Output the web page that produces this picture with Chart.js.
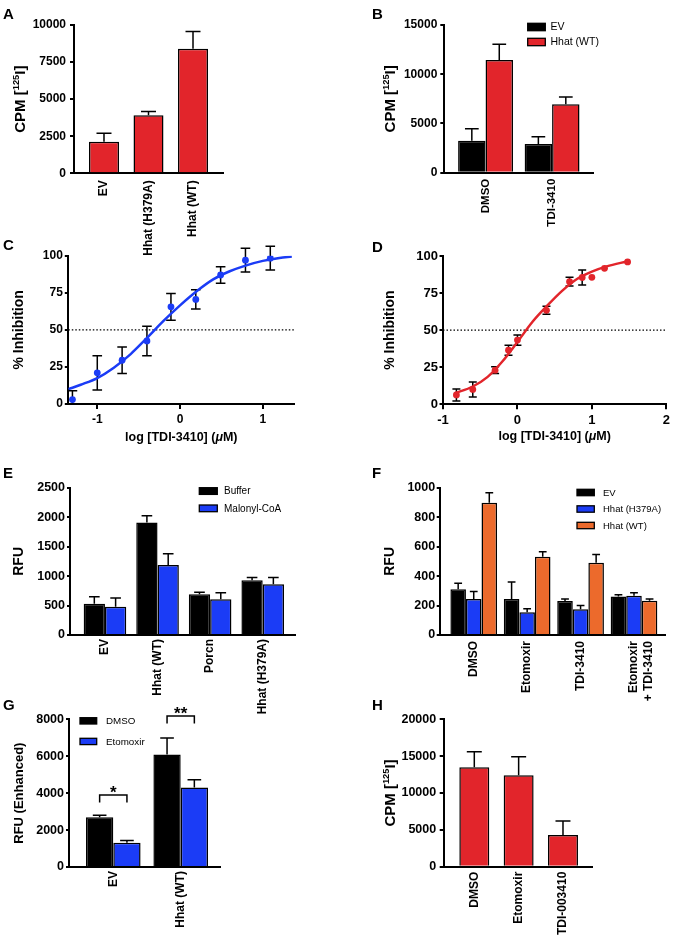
<!DOCTYPE html>
<html>
<head>
<meta charset="utf-8">
<script src="https://cdn.jsdelivr.net/npm/chart.js@4.4.1/dist/chart.umd.min.js"></script>
<style>
  body { margin: 0; background: #fff; }
  #wrap { position: relative; width: 674px; height: 940px; }
  #wrap canvas { position: absolute; left: 0; top: 0; }
</style>
</head>
<body>
<div id="wrap">
  <canvas id="chartA" width="674" height="940"></canvas>
  <canvas id="chartB" width="674" height="940"></canvas>
  <canvas id="chartC" width="674" height="940"></canvas>
  <canvas id="chartD" width="674" height="940"></canvas>
  <canvas id="chartE" width="674" height="940"></canvas>
  <canvas id="chartF" width="674" height="940"></canvas>
  <canvas id="chartG" width="674" height="940"></canvas>
  <canvas id="chartH" width="674" height="940"></canvas>
</div>
<script>
// ---- Data ----

// A: Hhat activity
const aLabels = ['EV', 'Hhat (H379A)', 'Hhat (WT)'];
const aCpm = [2130, 3910, 8400];
const aCpmErr = [570, 250, 1170];

// B: DMSO vs TDI-3410
const bLabels = ['DMSO', 'TDI-3410'];
const bEv = [3250, 2910];
const bEvErr = [1220, 750];
const bWt = [11450, 6940];
const bWtErr = [1590, 750];

// C: dose response (blue)
const cTicks = [-1, 0, 1];
const cLogDose = [-1.3, -1.0, -0.7, -0.4, -0.11, 0.19, 0.49, 0.79, 1.09];
const cInhibition = [3, 21, 29.5, 42.5, 65.5, 70.5, 87, 97, 98.3];
const cInhibitionErr = [6, 11.5, 9, 10, 9, 6.5, 5.6, 8, 8];
const cFitX = [-1.35, -1.2, -1.0, -0.8, -0.6, -0.4, -0.2, 0, 0.2, 0.4, 0.6, 0.8, 1.0, 1.2, 1.35];
const cFitY = [10, 13, 17.5, 24.5, 33.5, 44.5, 56, 66.5, 76, 84, 89.5, 93.5, 96.5, 98.5, 99.5];

// D: dose response (red)
const dTicks = [-1, 0, 1, 2];
const dLogDose = [-0.82, -0.6, -0.3, -0.12, 0, 0.39, 0.7, 0.87, 1.0, 1.17, 1.48];
const dInhibition = [6.3, 10, 23, 36.5, 43.3, 63.4, 82.7, 85.5, 85.6, 91.7, 96];
const dInhibitionErr = [4, 5, 2.3, 3.4, 3.5, 2.7, 3, 5, 0, 0, 0];
const dFitX = [-0.84, -0.6, -0.4, -0.2, 0, 0.2, 0.4, 0.6, 0.8, 1.0, 1.2, 1.48];
const dFitY = [7.5, 12, 18.5, 29, 42, 55.5, 66.5, 76.5, 84.5, 89.5, 93, 96.5];
const halfInhibition = 50;

// E: malonyl-CoA
const eLabels = ['EV', 'Hhat (WT)', 'Porcn', 'Hhat (H379A)'];
const eBuffer = [530, 1910, 690, 930];
const eBufferErr = [120, 115, 35, 45];
const eMalonyl = [480, 1190, 605, 860];
const eMalonylErr = [150, 190, 110, 115];

// F: RFU by treatment
const fLabels = ['DMSO', 'Etomoxir', 'TDI-3410', ['Etomoxir', '+ TDI-3410']];
const fEv = [310, 244, 231, 262];
const fEvErr = [41, 116, 13, 12];
const fH379A = [244, 154, 174, 267];
const fH379AErr = [52, 25, 27, 20];
const fWt = [898, 532, 491, 233];
const fWtErr = [68, 34, 56, 11];

// G: enhanced RFU
const gLabels = ['EV', 'Hhat (WT)'];
const gDmso = [2690, 6100];
const gDmsoErr = [110, 890];
const gEto = [1320, 4300];
const gEtoErr = [110, 430];
const gSigY = [3900, 8180];
const gSigText = ['*', '**'];

// H: CPM by treatment
const hLabels = ['DMSO', 'Etomoxir', 'TDI-003410'];
const hCpm = [13480, 12400, 4300];
const hCpmErr = [2130, 2530, 1900];

// ---- Styling ----
const FONT = "'Liberation Sans', Arial, Helvetica, sans-serif";
const RED = '#e2252b';
const BLUE = '#1b3cf6';
const ORANGE = '#ec6a2c';
const AXIS_W = 60;

Chart.defaults.font.family = FONT;
Chart.defaults.color = '#000';

const xy = (xs, ys) => xs.map((x, i) => ({ x, y: ys[i] }));
const idx = ys => ys.map((y, x) => ({ x, y }));

// draws a line of text with optional superscript / italic pieces, centred on cx
function drawRich(ctx, parts, size, cx, cy) {
  const fonts = parts.map(p => (p.italic ? 'italic ' : '') + 'bold ' + (p.sup ? size * 0.62 : size) + 'px ' + FONT);
  const widths = parts.map((p, k) => { ctx.font = fonts[k]; return ctx.measureText(p.text).width; });
  let x = cx - widths.reduce((a, b) => a + b, 0) / 2;
  ctx.textAlign = 'left';
  ctx.textBaseline = 'alphabetic';
  parts.forEach((p, k) => {
    ctx.font = fonts[k];
    ctx.fillText(p.text, x, cy + size * 0.36 - (p.sup ? size * 0.42 : 0));
    x += widths[k];
  });
}

// error bars, titles, legend, letters, significance brackets
const decor = {
  id: 'decor',
  beforeDatasetsDraw(chart, args, opts) {
    const ctx = chart.ctx;
    const yScale = chart.scales.y;
    ctx.save();
    ctx.strokeStyle = '#000';
    ctx.lineWidth = 1.5;
    chart.data.datasets.forEach((ds, i) => {
      if (!ds.errors) return;
      chart.getDatasetMeta(i).data.forEach((el, j) => {
        const err = ds.errors[j];
        if (!err) return;
        const v = ds.data[j].y;
        const isBar = el.width !== undefined;
        const top = yScale.getPixelForValue(v + err);
        const bottom = isBar ? el.y : yScale.getPixelForValue(Math.max(v - err, yScale.min));
        const half = isBar ? el.width / 4 : opts.cap;
        ctx.beginPath();
        ctx.moveTo(el.x, bottom);
        ctx.lineTo(el.x, top);
        ctx.moveTo(el.x - half, top);
        ctx.lineTo(el.x + half, top);
        if (!isBar && v - err > yScale.min) {
          ctx.moveTo(el.x - half, bottom);
          ctx.lineTo(el.x + half, bottom);
        }
        ctx.stroke();
      });
    });
    ctx.restore();
  },
  afterDraw(chart, args, opts) {
    const ctx = chart.ctx;
    const area = chart.chartArea;
    ctx.save();
    ctx.fillStyle = '#000';

    // panel letter
    ctx.font = 'bold 15px ' + FONT;
    ctx.textAlign = 'left';
    ctx.textBaseline = 'alphabetic';
    ctx.fillText(opts.letter.text, opts.letter.x, opts.letter.y);

    // y title (rotated)
    ctx.save();
    ctx.translate(opts.yTitle.x, (area.top + area.bottom) / 2);
    ctx.rotate(-Math.PI / 2);
    drawRich(ctx, opts.yTitle.parts, opts.yTitle.size, 0, 0);
    ctx.restore();

    // x title
    if (opts.xTitle) {
      drawRich(ctx, opts.xTitle.parts, opts.xTitle.size, (area.left + area.right) / 2, opts.xTitle.y);
    }

    // legend
    if (opts.legend) {
      const lg = opts.legend;
      chart.data.datasets.forEach((ds, i) => {
        const y = lg.y + i * lg.dy;
        ctx.fillStyle = ds.backgroundColor;
        ctx.fillRect(lg.x, y, lg.w, lg.h);
        ctx.strokeStyle = '#000';
        ctx.lineWidth = 1.3;
        ctx.strokeRect(lg.x, y, lg.w, lg.h);
        ctx.fillStyle = '#000';
        ctx.font = lg.size + 'px ' + FONT;
        ctx.textBaseline = 'middle';
        ctx.fillText(ds.label, lg.tx, y + lg.h / 2 + 0.5);
      });
    }

    // significance brackets between the two bars of a group
    if (opts.brackets) {
      const yScale = chart.scales.y;
      const m0 = chart.getDatasetMeta(0).data;
      const m1 = chart.getDatasetMeta(1).data;
      opts.brackets.values.forEach((val, g) => {
        const y = yScale.getPixelForValue(val);
        const x0 = m0[g].x, x1 = m1[g].x;
        ctx.strokeStyle = '#000';
        ctx.lineWidth = 1.5;
        ctx.beginPath();
        ctx.moveTo(x0, y + opts.brackets.leg);
        ctx.lineTo(x0, y);
        ctx.lineTo(x1, y);
        ctx.lineTo(x1, y + opts.brackets.leg);
        ctx.stroke();
        ctx.font = 'bold 17px ' + FONT;
        ctx.textAlign = 'center';
        ctx.textBaseline = 'alphabetic';
        ctx.fillText(opts.brackets.text[g], (x0 + x1) / 2, y + 3);
      });
    }
    ctx.restore();
  }
};

// category axis drawn on a linear scale so the bar spacing can be set
function categoryAxis(labels, min, max, pad, size, h) {
  return {
    type: 'linear',
    min: min,
    max: max,
    offset: false,
    afterBuildTicks: s => { s.ticks = labels.map((_, i) => ({ value: i })); },
    afterFit: s => { s.height = h; },
    ticks: {
      callback: v => labels[v],
      minRotation: 90,
      maxRotation: 90,
      autoSkip: false,
      padding: pad,
      color: '#000',
      font: { family: FONT, size: size, weight: 'bold' }
    },
    grid: { drawOnChartArea: false, drawTicks: false, offset: false },
    border: { color: '#000', width: 2 }
  };
}

function doseAxis(ticks, min, max, size, h) {
  return {
    type: 'linear',
    min: min,
    max: max,
    afterBuildTicks: s => { s.ticks = ticks.map(v => ({ value: v })); },
    afterFit: s => { s.height = h; },
    ticks: { callback: v => String(v), padding: 3, color: '#000', font: { family: FONT, size: size, weight: 'bold' } },
    grid: { drawOnChartArea: false, tickLength: 5, lineWidth: 2, color: '#000' },
    border: { color: '#000', width: 2 }
  };
}

function valueAxis(max, step, tick, pad, size) {
  return {
    min: 0,
    max: max,
    afterFit: s => { s.width = AXIS_W; },
    ticks: { stepSize: step, callback: v => String(v), padding: pad, color: '#000', font: { family: FONT, size: size, weight: 'bold' } },
    grid: { drawOnChartArea: false, tickLength: tick, lineWidth: 2, color: '#000' },
    border: { color: '#000', width: 2 }
  };
}

function barSet(label, color, values, errors, pct) {
  return {
    label: label,
    data: idx(values),
    errors: errors,
    backgroundColor: color,
    borderColor: '#000',
    borderWidth: 1.5,
    categoryPercentage: pct,
    barPercentage: 1
  };
}

// area = chart area in page pixels, xh = height reserved for the x axis labels
function panel(id, area, type, datasets, xAxis, yAxis, decorOpts) {
  return new Chart(document.getElementById(id), {
    type: type,
    data: { datasets: datasets },
    options: {
      responsive: false,
      animation: false,
      events: [],
      layout: {
        padding: {
          left: area.l - AXIS_W,
          top: area.t,
          right: 674 - area.r,
          bottom: 940 - area.b - area.xh
        }
      },
      scales: { x: xAxis, y: yAxis },
      plugins: { legend: { display: false }, tooltip: { enabled: false }, decor: decorOpts }
    },
    plugins: [decor]
  });
}

const cpmTitle = [{ text: 'CPM [' }, { text: '125', sup: true }, { text: 'I]' }];
const inhTitle = [{ text: '% Inhibition' }];
const doseTitle = [{ text: 'log [TDI-3410] (' }, { text: 'μ', italic: true }, { text: 'M)' }];

// A
panel('chartA', { l: 74, t: 25, r: 223, b: 173.3, xh: 95 }, 'bar',
  [barSet('CPM', RED, aCpm, aCpmErr, 0.674)],
  categoryAxis(aLabels, -0.674, 2.674, 7, 12, 95),
  valueAxis(10000, 2500, 4, 4, 12),
  { letter: { text: 'A', x: 3, y: 18.5 }, yTitle: { x: 19.5, size: 15, parts: cpmTitle } });

// B
panel('chartB', { l: 444.3, t: 25, r: 593, b: 172.7, xh: 95 }, 'bar',
  [barSet('EV', '#000', bEv, bEvErr, 0.825), barSet('Hhat (WT)', RED, bWt, bWtErr, 0.825)],
  categoryAxis(bLabels, -0.62, 1.615, 6, 11.5, 95),
  valueAxis(15000, 5000, 4, 3, 12),
  { letter: { text: 'B', x: 372, y: 18.5 }, yTitle: { x: 389.5, size: 15, parts: cpmTitle },
    legend: { x: 527.7, y: 23.3, dy: 15, w: 17.6, h: 7.4, tx: 550.5, size: 10.5 } });

// C
panel('chartC', { l: 68.3, t: 255.7, r: 294.3, b: 404, xh: 40 }, 'scatter',
  [
    { type: 'scatter', data: xy(cLogDose, cInhibition), errors: cInhibitionErr, backgroundColor: BLUE, borderWidth: 0, pointRadius: 3.4 },
    { type: 'line', data: xy(cFitX, cFitY), borderColor: BLUE, borderWidth: 2.5, pointRadius: 0, cubicInterpolationMode: 'monotone' },
    { type: 'line', data: [{ x: -1.35, y: halfInhibition }, { x: 1.38, y: halfInhibition }], borderColor: '#000', borderWidth: 1.2, borderDash: [1.5, 2], pointRadius: 0 }
  ],
  doseAxis(cTicks, -1.35, 1.38, 12, 40),
  valueAxis(100, 25, 3.5, 2, 12),
  { cap: 4.8, letter: { text: 'C', x: 3, y: 250 }, yTitle: { x: 18.3, size: 14, parts: inhTitle },
    xTitle: { y: 436.7, size: 12.5, parts: doseTitle } });

// D
panel('chartD', { l: 443, t: 256, r: 666.3, b: 404.3, xh: 40 }, 'scatter',
  [
    { type: 'scatter', data: xy(dLogDose, dInhibition), errors: dInhibitionErr, backgroundColor: RED, borderWidth: 0, pointRadius: 3.4 },
    { type: 'line', data: xy(dFitX, dFitY), borderColor: RED, borderWidth: 2.5, pointRadius: 0, cubicInterpolationMode: 'monotone' },
    { type: 'line', data: [{ x: -1, y: halfInhibition }, { x: 2, y: halfInhibition }], borderColor: '#000', borderWidth: 1.2, borderDash: [1.5, 2], pointRadius: 0 }
  ],
  doseAxis(dTicks, -1, 2, 13, 40),
  valueAxis(100, 25, 3.5, 1.5, 13),
  { cap: 4, letter: { text: 'D', x: 372, y: 251.5 }, yTitle: { x: 388.7, size: 14, parts: inhTitle },
    xTitle: { y: 435.7, size: 12.5, parts: doseTitle } });

// E
panel('chartE', { l: 70, t: 487.7, r: 295, b: 635, xh: 95 }, 'bar',
  [barSet('Buffer', '#000', eBuffer, eBufferErr, 0.81), barSet('Malonyl-CoA', BLUE, eMalonyl, eMalonylErr, 0.81)],
  categoryAxis(eLabels, -0.665, 3.614, 4, 12, 95),
  valueAxis(2500, 500, 3, 2, 12.5),
  { letter: { text: 'E', x: 3, y: 478.3 }, yTitle: { x: 18.3, size: 14, parts: [{ text: 'RFU' }] },
    legend: { x: 199.3, y: 487.7, dy: 17.3, w: 18, h: 6.7, tx: 224, size: 10 } });

// F
panel('chartF', { l: 439.7, t: 487.7, r: 665.3, b: 635, xh: 95 }, 'bar',
  [barSet('EV', '#000', fEv, fEvErr, 0.874), barSet('Hhat (H379A)', BLUE, fH379A, fH379AErr, 0.874), barSet('Hhat (WT)', ORANGE, fWt, fWtErr, 0.874)],
  categoryAxis(fLabels, -0.637, 3.586, 6, 12, 95),
  valueAxis(1000, 200, 3, 1.5, 12.5),
  { letter: { text: 'F', x: 372, y: 478.3 }, yTitle: { x: 388.6, size: 14, parts: [{ text: 'RFU' }] },
    legend: { x: 577, y: 489.3, dy: 16.5, w: 17.3, h: 6.4, tx: 603, size: 9.5 } });

// G
panel('chartG', { l: 69, t: 719.3, r: 220, b: 867, xh: 72 }, 'bar',
  [barSet('DMSO', '#000', gDmso, gDmsoErr, 0.81), barSet('Etomoxir', BLUE, gEto, gEtoErr, 0.81)],
  categoryAxis(gLabels, -0.657, 1.583, 4, 12, 72),
  valueAxis(8000, 2000, 3, 2, 12.5),
  { letter: { text: 'G', x: 3, y: 710 }, yTitle: { x: 18.3, size: 13, parts: [{ text: 'RFU (Enhanced)' }] },
    legend: { x: 80, y: 717.7, dy: 20.6, w: 16.7, h: 6.3, tx: 106, size: 9.8 },
    brackets: { values: gSigY, text: gSigText, leg: 7.5 } });

// H
panel('chartH', { l: 443.7, t: 719.3, r: 592.7, b: 866.7, xh: 72 }, 'bar',
  [barSet('CPM', RED, hCpm, hCpmErr, 0.676)],
  categoryAxis(hLabels, -0.69, 2.67, 5, 12, 72),
  valueAxis(20000, 5000, 4, 3.5, 12.5),
  { letter: { text: 'H', x: 372, y: 710 }, yTitle: { x: 389.5, size: 15, parts: cpmTitle } });
</script>
</body>
</html>
